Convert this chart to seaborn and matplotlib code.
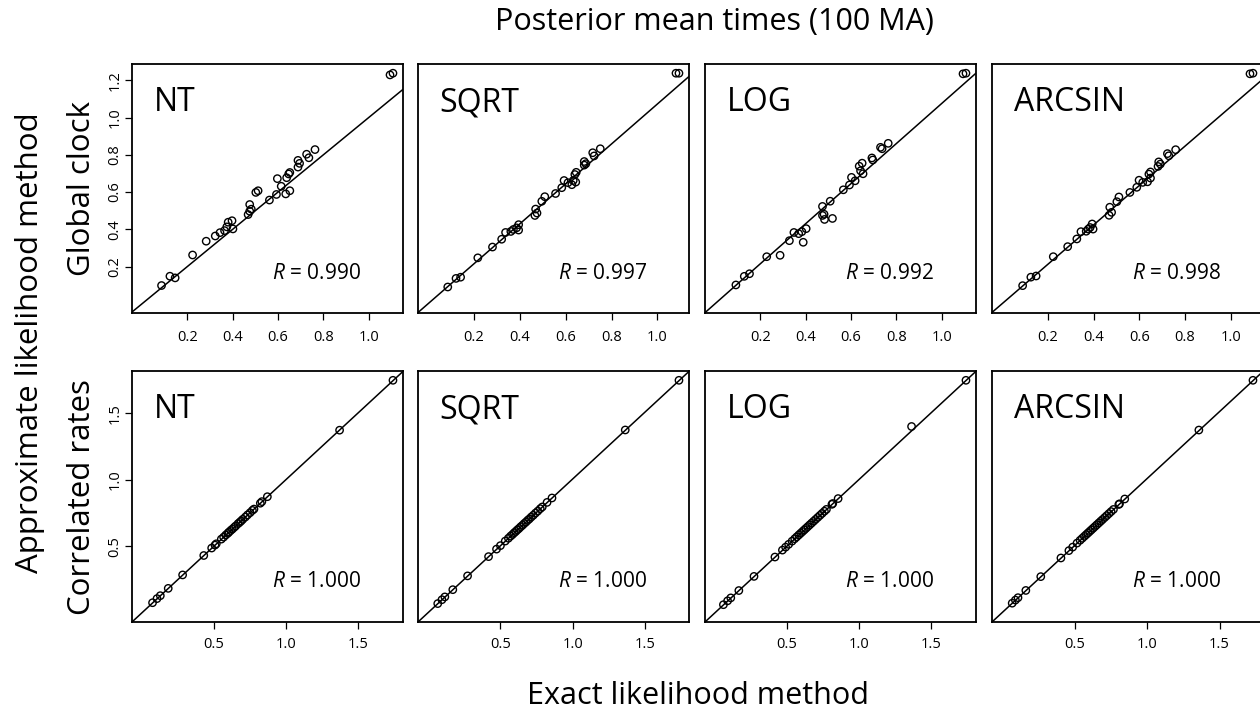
import matplotlib
matplotlib.use('Agg')
import matplotlib.pyplot as plt
import seaborn as sns
import pandas as pd

# Panel names
methods = ['NT', 'SQRT', 'LOG', 'ARCSIN']

# Global clock (top row): exact (x) vs approximate (y) posterior mean times
gc_nt_x = [0.086, 0.123, 0.146, 0.223, 0.283, 0.323, 0.344, 0.364, 0.374, 0.380, 0.397, 0.401,
           0.468, 0.475, 0.475, 0.482, 0.502, 0.512, 0.562, 0.593, 0.597, 0.614, 0.634, 0.638,
           0.647, 0.652, 0.652, 0.688, 0.688, 0.695, 0.726, 0.736, 0.763, 1.094, 1.107]
gc_nt_y = [0.098, 0.148, 0.139, 0.262, 0.336, 0.364, 0.382, 0.393, 0.413, 0.438, 0.446, 0.402,
           0.479, 0.497, 0.533, 0.508, 0.598, 0.607, 0.557, 0.587, 0.672, 0.631, 0.590, 0.677,
           0.697, 0.607, 0.705, 0.734, 0.770, 0.754, 0.803, 0.784, 0.828, 1.229, 1.238]

gc_sqrt_x = [0.086, 0.122, 0.142, 0.217, 0.281, 0.321, 0.338, 0.361, 0.372, 0.386, 0.395, 0.395,
             0.466, 0.469, 0.475, 0.496, 0.509, 0.556, 0.583, 0.593, 0.610, 0.627, 0.633, 0.640,
             0.644, 0.646, 0.681, 0.681, 0.688, 0.718, 0.724, 0.751, 1.081, 1.094]
gc_sqrt_y = [0.084, 0.127, 0.133, 0.230, 0.284, 0.323, 0.357, 0.362, 0.372, 0.380, 0.396, 0.369,
             0.442, 0.474, 0.454, 0.513, 0.536, 0.552, 0.581, 0.617, 0.606, 0.596, 0.617, 0.647,
             0.609, 0.658, 0.694, 0.712, 0.701, 0.756, 0.740, 0.776, 1.154, 1.154]

gc_log_x = [0.092, 0.129, 0.152, 0.228, 0.287, 0.328, 0.348, 0.369, 0.383, 0.389, 0.402, 0.474,
            0.474, 0.481, 0.483, 0.508, 0.518, 0.566, 0.593, 0.602, 0.618, 0.636, 0.642, 0.649,
            0.653, 0.692, 0.696, 0.730, 0.737, 0.764, 1.094, 1.107]
gc_log_y = [0.094, 0.137, 0.150, 0.235, 0.242, 0.315, 0.356, 0.350, 0.360, 0.307, 0.375, 0.486,
            0.441, 0.447, 0.421, 0.512, 0.426, 0.569, 0.593, 0.631, 0.614, 0.687, 0.664, 0.702,
            0.649, 0.728, 0.718, 0.781, 0.774, 0.801, 1.148, 1.151]

gc_arcsin_x = [0.090, 0.126, 0.149, 0.224, 0.287, 0.327, 0.345, 0.368, 0.377, 0.385, 0.394, 0.398,
               0.468, 0.471, 0.479, 0.502, 0.511, 0.559, 0.589, 0.599, 0.615, 0.636, 0.642, 0.649,
               0.649, 0.682, 0.685, 0.692, 0.723, 0.729, 0.759, 1.084, 1.097]
gc_arcsin_y = [0.092, 0.135, 0.141, 0.239, 0.290, 0.329, 0.366, 0.368, 0.379, 0.387, 0.405, 0.379,
               0.449, 0.490, 0.464, 0.518, 0.542, 0.565, 0.591, 0.627, 0.616, 0.619, 0.658, 0.638,
               0.669, 0.697, 0.720, 0.709, 0.762, 0.751, 0.782, 1.167, 1.170]

# Correlated rates (bottom row)
cr_nt_x = [0.073, 0.104, 0.127, 0.182, 0.282, 0.429, 0.484, 0.507, 0.516, 0.551, 0.567, 0.582,
           0.596, 0.604, 0.616, 0.627, 0.640, 0.651, 0.667, 0.678, 0.689, 0.700, 0.718, 0.733,
           0.751, 0.767, 0.778, 0.822, 0.833, 0.871, 1.373, 1.744]
cr_nt_y = [0.075, 0.106, 0.128, 0.183, 0.284, 0.430, 0.486, 0.508, 0.518, 0.553, 0.568, 0.584,
           0.597, 0.606, 0.618, 0.628, 0.641, 0.652, 0.669, 0.679, 0.690, 0.702, 0.719, 0.735,
           0.752, 0.769, 0.779, 0.823, 0.835, 0.872, 1.372, 1.747]

cr_sqrt_x = [0.067, 0.096, 0.116, 0.171, 0.273, 0.418, 0.473, 0.500, 0.533, 0.555, 0.570, 0.583,
             0.595, 0.606, 0.617, 0.628, 0.640, 0.652, 0.664, 0.676, 0.688, 0.700, 0.713, 0.727,
             0.742, 0.758, 0.775, 0.789, 0.822, 0.856, 1.362, 1.733]
cr_sqrt_y = [0.068, 0.097, 0.118, 0.172, 0.275, 0.419, 0.475, 0.501, 0.535, 0.556, 0.572, 0.584,
             0.597, 0.607, 0.619, 0.629, 0.642, 0.653, 0.666, 0.677, 0.690, 0.701, 0.715, 0.728,
             0.744, 0.759, 0.777, 0.790, 0.824, 0.857, 1.365, 1.736]

cr_log_x = [0.058, 0.087, 0.109, 0.165, 0.270, 0.415, 0.467, 0.489, 0.510, 0.534, 0.552, 0.566,
            0.580, 0.593, 0.606, 0.618, 0.630, 0.643, 0.656, 0.669, 0.683, 0.697, 0.712, 0.727,
            0.742, 0.758, 0.772, 0.810, 0.816, 0.853, 1.362, 1.739]
cr_log_y = [0.060, 0.089, 0.111, 0.166, 0.272, 0.417, 0.469, 0.491, 0.512, 0.536, 0.554, 0.568,
            0.582, 0.595, 0.608, 0.620, 0.632, 0.645, 0.658, 0.671, 0.685, 0.699, 0.714, 0.729,
            0.744, 0.760, 0.774, 0.812, 0.818, 0.855, 1.395, 1.741]

cr_arcsin_x = [0.070, 0.092, 0.110, 0.164, 0.267, 0.406, 0.461, 0.487, 0.517, 0.538, 0.553, 0.567,
               0.580, 0.592, 0.604, 0.616, 0.628, 0.641, 0.654, 0.667, 0.680, 0.693, 0.708, 0.722,
               0.737, 0.752, 0.768, 0.805, 0.810, 0.846, 1.357, 1.730]
cr_arcsin_y = [0.071, 0.094, 0.112, 0.166, 0.269, 0.408, 0.463, 0.489, 0.519, 0.540, 0.555, 0.569,
               0.582, 0.594, 0.606, 0.618, 0.630, 0.643, 0.656, 0.669, 0.682, 0.695, 0.710, 0.724,
               0.739, 0.754, 0.770, 0.807, 0.812, 0.848, 1.362, 1.733]

r_global = ['0.990', '0.997', '0.992', '0.998']
r_corr = ['1.000', '1.000', '1.000', '1.000']

top_ticks = [0.2, 0.4, 0.6, 0.8, 1.0]
top_yticks = [0.2, 0.4, 0.6, 0.8, 1.0, 1.2]
bot_ticks = [0.5, 1.0, 1.5]

top_data = [(gc_nt_x, gc_nt_y), (gc_sqrt_x, gc_sqrt_y), (gc_log_x, gc_log_y), (gc_arcsin_x, gc_arcsin_y)]
bot_data = [(cr_nt_x, cr_nt_y), (cr_sqrt_x, cr_sqrt_y), (cr_log_x, cr_log_y), (cr_arcsin_x, cr_arcsin_y)]

sns.set_style('ticks')
plt.rcParams['font.family'] = ['Open Sans', 'DejaVu Sans']
plt.rcParams['mathtext.fontset'] = 'custom'
plt.rcParams['mathtext.rm'] = 'Open Sans'
plt.rcParams['mathtext.it'] = 'Open Sans:italic'
for key in ['text.color', 'axes.labelcolor', 'xtick.color', 'ytick.color', 'axes.edgecolor']:
    plt.rcParams[key] = 'black'

W, H = 1260, 712
fig = plt.figure(figsize=(W / 100, H / 100), dpi=100)

lefts = [132, 418, 705, 992]
pw = 271
rows = [(64, 249), (371, 251)]


def draw_panel(ax, xs, ys, name, rtxt, xticks, yticks, show_y, xpad):
    df = pd.DataFrame({'exact': xs, 'approx': ys})
    sns.scatterplot(data=df, x='exact', y='approx', ax=ax, marker='o', s=28,
                    facecolors='none', edgecolor='black', linewidth=1.0)
    ax.margins(0.04)
    ax.axline((0, 0), slope=1, color='black', lw=1.1)
    ax.set_xlabel('')
    ax.set_ylabel('')
    ax.set_xticks(xticks)
    ax.set_xticklabels(['%.1f' % t for t in xticks])
    ax.tick_params(axis='x', direction='out', length=5, width=0.9, labelsize=10.5, pad=xpad)
    if show_y:
        ax.set_yticks(yticks)
        ax.set_yticklabels(['%.1f' % t for t in yticks])
        ax.tick_params(axis='y', direction='out', length=5, width=0.9, labelsize=10.5, pad=2,
                       labelrotation=90)
        for lab in ax.get_yticklabels():
            lab.set_va('center')
    else:
        ax.set_yticks([])
    for sp in ax.spines.values():
        sp.set_visible(True)
        sp.set_linewidth(1.3)
        sp.set_color('black')
    ax.text(0.08, 0.845, name, transform=ax.transAxes, fontsize=23, va='center', ha='left')
    ax.text(0.845, 0.16, '$\\it{R}$ = ' + rtxt, transform=ax.transAxes, fontsize=15,
            va='center', ha='right')


for r, (top, h) in enumerate(rows):
    for c in range(4):
        ax = fig.add_axes([lefts[c] / W, (H - top - h) / H, pw / W, h / H])
        if r == 0:
            xs, ys = top_data[c]
            draw_panel(ax, xs, ys, methods[c], r_global[c], top_ticks, top_yticks, c == 0, 7)
        else:
            xs, ys = bot_data[c]
            draw_panel(ax, xs, ys, methods[c], r_corr[c], bot_ticks, bot_ticks, c == 0, 6)

fig.text(714 / W, 1 - 22 / H, 'Posterior mean times (100 MA)', fontsize=22, ha='center', va='center')
fig.text(698 / W, 1 - 696 / H, 'Exact likelihood method', fontsize=22, ha='center', va='center')
fig.text(30 / W, 1 - 343 / H, 'Approximate likelihood method', fontsize=22.5, rotation=90,
         ha='center', va='center')
fig.text(82 / W, 1 - 188 / H, 'Global clock', fontsize=22.5, rotation=90, ha='center', va='center')
fig.text(82 / W, 1 - 497 / H, 'Correlated rates', fontsize=22.5, rotation=90, ha='center', va='center')

fig.savefig('out.png', dpi=100, facecolor='white')
